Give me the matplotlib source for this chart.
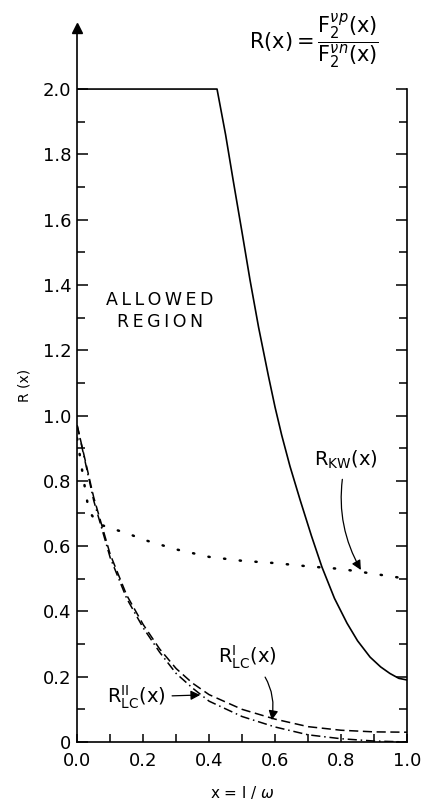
#!/usr/bin/env python3
import numpy as np
import matplotlib.pyplot as plt
from matplotlib.ticker import MultipleLocator

# Kinematic limit (solid)
x_lim = [0.0, 0.424, 0.45, 0.473, 0.50, 0.524, 0.55, 0.58, 0.60, 0.62, 0.645,
         0.676, 0.71, 0.742, 0.78, 0.818, 0.85, 0.888, 0.92, 0.948, 0.975, 1.0]
r_lim = [2.0, 2.0, 1.86, 1.72, 1.56, 1.415, 1.27, 1.12, 1.025, 0.94, 0.845,
         0.741, 0.632, 0.536, 0.44, 0.364, 0.31, 0.26, 0.23, 0.21, 0.195, 0.19]

# R_KW (dotted)
x_kw = [0.0, 0.02, 0.035, 0.06, 0.1, 0.15, 0.2, 0.3, 0.4, 0.5, 0.6, 0.7, 0.8, 0.9, 1.0]
r_kw = [0.93, 0.80, 0.71, 0.67, 0.655, 0.64, 0.62, 0.59, 0.567, 0.555, 0.548,
        0.538, 0.53, 0.515, 0.50]

# R_LC^I (dashed) and R_LC^II (dash-dot)
x_lc = [0.0, 0.05, 0.1, 0.15, 0.2, 0.25, 0.3, 0.35, 0.4, 0.5, 0.6, 0.7, 0.8, 0.9, 1.0]
r_lc1 = [0.97, 0.75, 0.575, 0.45, 0.36, 0.285, 0.225, 0.18, 0.145, 0.10, 0.07,
         0.047, 0.036, 0.031, 0.03]
r_lc2 = [0.97, 0.74, 0.565, 0.44, 0.35, 0.275, 0.21, 0.165, 0.125, 0.078, 0.046,
         0.022, 0.01, 0.003, 0.0]

fig = plt.figure(figsize=(4.24, 8.0), dpi=100)
ax = fig.add_axes([0.182, 0.0725, 0.778, 0.8925])

ax.plot(x_lim, r_lim, 'k-', lw=1.2)
ax.plot(x_kw, r_kw, color='k', lw=1.8, linestyle=(0, (0.5, 5.8)),
        dash_capstyle='round')
ax.plot(x_lc, r_lc1, color='k', lw=1.1, linestyle=(0, (6, 3)))
ax.plot(x_lc, r_lc2, color='k', lw=1.1, linestyle=(0, (6, 2.5, 1, 2.5)))

ax.set_xlim(0, 1.0)
ax.set_ylim(0, 2.187)
ax.spines['top'].set_visible(False)
ax.spines['right'].set_bounds(0, 2.0)
for s in ax.spines.values():
    s.set_linewidth(1.2)

ax.set_xticks(np.arange(0, 1.01, 0.2))
ax.set_xticklabels(['0.0', '0.2', '0.4', '0.6', '0.8', '1.0'])
ax.xaxis.set_minor_locator(MultipleLocator(0.1))
ax.set_yticks(np.arange(0, 2.01, 0.2))
ax.set_yticklabels(['0', '0.2', '0.4', '0.6', '0.8', '1.0', '1.2', '1.4',
                    '1.6', '1.8', '2.0'])
ax.set_yticks(np.arange(0.1, 2.0, 0.2), minor=True)
ax.tick_params(which='both', direction='in', right=True, width=1.1,
               labelsize=13)
ax.tick_params(axis='y', which='major', length=8, pad=4)
ax.tick_params(axis='y', which='minor', length=5.5)
ax.tick_params(axis='x', which='both', length=5.5, pad=7)

# arrow head on y axis
ax.plot(0, 1, marker='^', color='k', markersize=7, transform=ax.transAxes,
        clip_on=False)

ax.set_ylabel('R (x)', fontsize=10, labelpad=8)
ax.set_xlabel(r'x = l / $\omega$', fontsize=11, labelpad=10)

ax.text(0.25, 1.32, '\u2009'.join('ALLOWED') + '\n' + '\u2009'.join('REGION'),
        ha='center', va='center', fontsize=12.5, linespacing=1.3)

fig.text(0.74, 0.948,
         r'$\mathrm{R(x)}=\dfrac{\mathrm{F}_2^{\nu p}\mathrm{(x)}}'
         r'{\mathrm{F}_2^{\nu n}\mathrm{(x)}}$',
         ha='center', va='center', fontsize=15)

ax.annotate(r'$\mathrm{R}_{\mathrm{KW}}\mathrm{(x)}$', xy=(0.86, 0.527),
            xytext=(0.815, 0.864), ha='center', va='center', fontsize=14,
            arrowprops=dict(arrowstyle='-|>', color='k', lw=0.9,
                            shrinkA=4, shrinkB=0,
                            connectionstyle='arc3,rad=0.2'))
ax.annotate(r'$\mathrm{R}^{\mathrm{I}}_{\mathrm{LC}}\mathrm{(x)}$',
            xy=(0.59, 0.067), xytext=(0.515, 0.26),
            ha='center', va='center', fontsize=14,
            arrowprops=dict(arrowstyle='-|>', color='k', lw=0.9,
                            shrinkA=3, shrinkB=0,
                            connectionstyle='arc3,rad=-0.3'))
ax.annotate(r'$\mathrm{R}^{\mathrm{II}}_{\mathrm{LC}}\mathrm{(x)}$',
            xy=(0.373, 0.144), xytext=(0.178, 0.138),
            ha='center', va='center', fontsize=14,
            arrowprops=dict(arrowstyle='-|>', color='k', lw=0.9,
                            shrinkA=3, shrinkB=0))

fig.savefig('out.png', dpi=100)
